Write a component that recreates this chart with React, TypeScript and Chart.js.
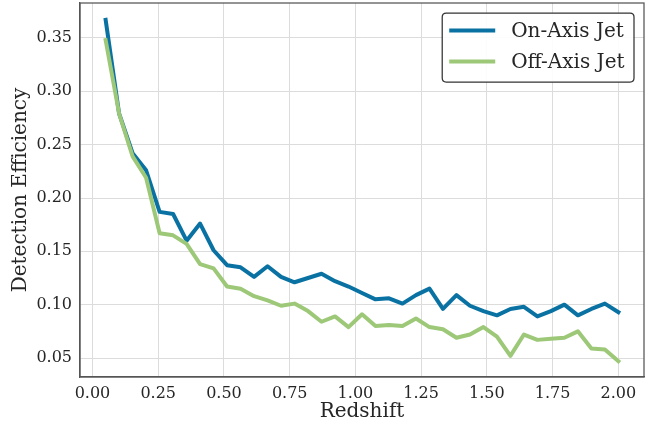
import React, { useEffect, useRef } from "react";
import { Chart, registerables } from "chart.js";

Chart.register(...registerables);

// ---- data ----
const redshift = [
  0.05, 0.1013, 0.1526, 0.2039, 0.2553, 0.3066, 0.3579, 0.4092, 0.4605, 0.5118,
  0.5632, 0.6145, 0.6658, 0.7171, 0.7684, 0.8197, 0.8711, 0.9224, 0.9737, 1.025,
  1.0763, 1.1276, 1.1789, 1.2303, 1.2816, 1.3329, 1.3842, 1.4355, 1.4868, 1.5382,
  1.5895, 1.6408, 1.6921, 1.7434, 1.7947, 1.8461, 1.8974, 1.9487, 2.0,
];
const onAxisJet = [
  0.367, 0.279, 0.242, 0.226, 0.187, 0.185, 0.160, 0.176, 0.151, 0.137,
  0.135, 0.126, 0.136, 0.126, 0.121, 0.125, 0.129, 0.122, 0.117, 0.111,
  0.105, 0.106, 0.101, 0.109, 0.115, 0.096, 0.109, 0.099, 0.094, 0.090,
  0.096, 0.098, 0.089, 0.094, 0.100, 0.090, 0.096, 0.101, 0.093,
];
const offAxisJet = [
  0.348, 0.279, 0.239, 0.219, 0.167, 0.165, 0.157, 0.138, 0.134, 0.117,
  0.115, 0.108, 0.104, 0.099, 0.101, 0.094, 0.084, 0.089, 0.079, 0.091,
  0.080, 0.081, 0.080, 0.087, 0.079, 0.077, 0.069, 0.072, 0.079, 0.070,
  0.052, 0.072, 0.067, 0.068, 0.069, 0.075, 0.059, 0.058, 0.047,
];
const seriesLabels = ["On-Axis Jet", "Off-Axis Jet"];
const seriesColors = ["#0A72A3", "#9CC878"];
const xTickValues = [0, 0.25, 0.5, 0.75, 1.0, 1.25, 1.5, 1.75, 2.0];
const yTickValues = [0.05, 0.1, 0.15, 0.2, 0.25, 0.3, 0.35];
const xTitle = "Redshift";
const yTitle = "Detection Efficiency";

const FONT = "'DejaVu Serif', serif";
const TEXT = "#262626";

const framePlugin = {
  id: "frame",
  afterDraw(chart: any) {
    const { ctx, chartArea: a } = chart;
    ctx.save();
    ctx.strokeStyle = "#555555";
    ctx.lineWidth = 1.25;
    ctx.strokeRect(a.left, a.top, a.right - a.left, a.bottom - a.top);
    ctx.restore();
  },
};

const legendPlugin = {
  id: "boxLegend",
  afterDraw(chart: any) {
    const { ctx, chartArea: a } = chart;
    const ds = chart.data.datasets;
    ctx.save();
    ctx.font = `20px ${FONT}`;
    let tw = 0;
    for (const d of ds) tw = Math.max(tw, ctx.measureText(d.label).width);
    const padL = 7, lineLen = 46, gap = 16, padR = 9.5;
    const w = padL + lineLen + gap + tw + padR;
    const h = 69;
    const right = a.right - 10;
    const left = right - w;
    const top = a.top + 10;
    const r = 4;
    ctx.beginPath();
    ctx.moveTo(left + r, top);
    ctx.lineTo(right - r, top);
    ctx.quadraticCurveTo(right, top, right, top + r);
    ctx.lineTo(right, top + h - r);
    ctx.quadraticCurveTo(right, top + h, right - r, top + h);
    ctx.lineTo(left + r, top + h);
    ctx.quadraticCurveTo(left, top + h, left, top + h - r);
    ctx.lineTo(left, top + r);
    ctx.quadraticCurveTo(left, top, left + r, top);
    ctx.closePath();
    ctx.fillStyle = "rgba(255,255,255,0.9)";
    ctx.fill();
    ctx.strokeStyle = "#333333";
    ctx.lineWidth = 1.25;
    ctx.stroke();
    ds.forEach((d: any, i: number) => {
      const cy = top + 17.5 + i * 31;
      ctx.beginPath();
      ctx.moveTo(left + padL, cy);
      ctx.lineTo(left + padL + lineLen, cy);
      ctx.strokeStyle = d.borderColor;
      ctx.lineWidth = 4;
      ctx.lineCap = "butt";
      ctx.stroke();
      ctx.fillStyle = TEXT;
      ctx.textBaseline = "middle";
      ctx.textAlign = "left";
      ctx.fillText(d.label, left + padL + lineLen + gap, cy + 1);
    });
    ctx.restore();
  },
};

export default function App() {
  const ref = useRef<HTMLCanvasElement>(null);
  useEffect(() => {
    document.body.style.margin = "0";
    const canvas = ref.current!;
    const series = [onAxisJet, offAxisJet];
    const chart = new Chart(canvas, {
      type: "line",
      data: {
        datasets: series.map((vals, i) => ({
          label: seriesLabels[i],
          data: redshift.map((x, j) => ({ x, y: vals[j] })),
          borderColor: seriesColors[i],
          backgroundColor: seriesColors[i],
          borderWidth: 4,
          pointRadius: 0,
          tension: 0,
          fill: false,
          borderJoinStyle: "round",
          borderCapStyle: "square",
          order: i === 0 ? 1 : 0,
        })),
      },
      options: {
        animation: false,
        responsive: false,
        devicePixelRatio: 1,
        layout: { padding: { top: 3, right: 21, left: 0, bottom: 0 } },
        plugins: { legend: { display: false }, tooltip: { enabled: false } },
        scales: {
          x: {
            type: "linear",
            min: -0.0475,
            max: 2.0975,
            afterBuildTicks: (s: any) => {
              s.ticks = xTickValues.map((v) => ({ value: v }));
            },
            afterFit: (s: any) => {
              s.height = 51;
              s.paddingLeft = 0;
              s.paddingRight = 0;
            },
            grid: { color: "#dcdcdc", lineWidth: 1, drawTicks: false },
            border: { display: true, color: "#555555", width: 1.25 },
            ticks: {
              padding: 7,
              color: TEXT,
              font: { family: FONT, size: 16 },
              maxRotation: 0,
              callback: (v: any) => Number(v).toFixed(2),
            },
            title: {
              display: true,
              text: xTitle,
              color: TEXT,
              font: { family: FONT, size: 20 },
              padding: { top: 0, bottom: 4 },
            },
          },
          y: {
            type: "linear",
            min: 0.0322,
            max: 0.3828,
            afterBuildTicks: (s: any) => {
              s.ticks = yTickValues.map((v) => ({ value: v }));
            },
            afterFit: (s: any) => {
              s.width = 80;
              s.paddingTop = 0;
              s.paddingBottom = 0;
            },
            grid: { color: "#dcdcdc", lineWidth: 1, drawTicks: false },
            border: { display: true, color: "#555555", width: 1.25 },
            ticks: {
              padding: 8,
              color: TEXT,
              font: { family: FONT, size: 16 },
              callback: (v: any) => Number(v).toFixed(2),
            },
            title: {
              display: true,
              text: yTitle,
              color: TEXT,
              font: { family: FONT, size: 20 },
              padding: { top: 9, bottom: 0 },
            },
          },
        },
      },
      plugins: [framePlugin, legendPlugin],
    } as any);
    return () => chart.destroy();
  }, []);
  return (
    <div style={{ position: "absolute", left: 0, top: 0, width: 665, height: 428 }}>
      <canvas ref={ref} width={665} height={428} style={{ display: "block" }} />
    </div>
  );
}
